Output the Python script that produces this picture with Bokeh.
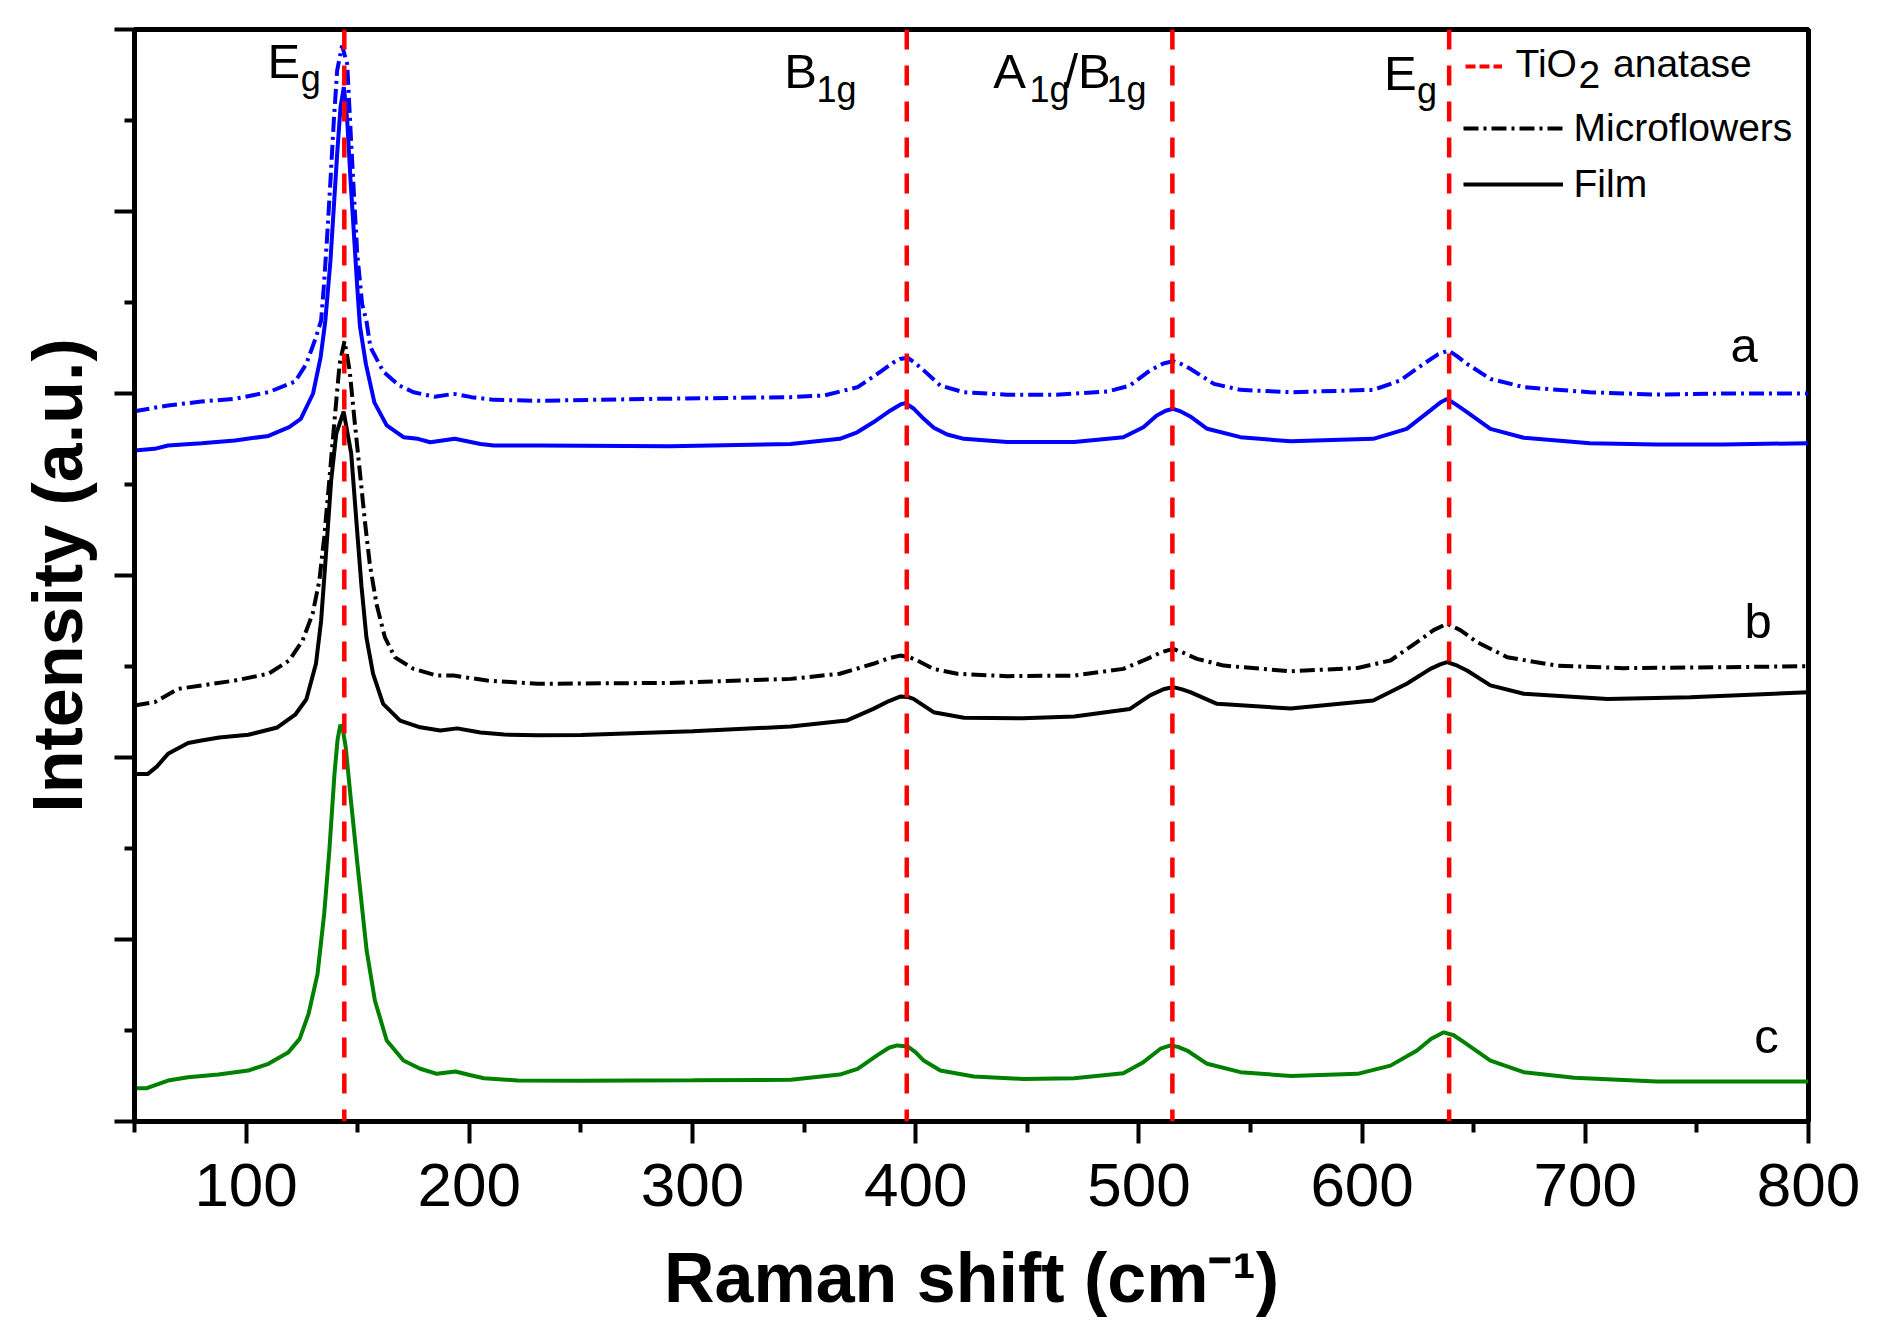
import math
from bokeh.plotting import figure
from bokeh.models import (Range1d, FixedTicker, Span, Label, Legend, LegendItem,
                          CustomJSTickFormatter)
from bokeh.embed import file_html
from bokeh.resources import INLINE

# ---------------- data ----------------
# Raman shift (cm-1), intensity (a.u., stacked)
microflowers_a = [
    (50, 3.903), (65, 3.934), (80, 3.956), (95, 3.971), (110, 4.007), (122, 4.066),
    (127, 4.163), (131.3, 4.309), (133.6, 4.40), (134.8, 4.584), (136.3, 4.86),
    (137.8, 5.17), (139.3, 5.5), (140.8, 5.775), (143.0, 5.912), (145.3, 5.81),
    (146.8, 5.445), (148.3, 5.097), (149.8, 4.767), (152.0, 4.49), (153.9, 4.40),
    (155.7, 4.254), (161.5, 4.12), (168.5, 4.045), (175, 4.007), (184.5, 3.982),
    (193, 3.998), (201, 3.98), (211, 3.965), (231, 3.96), (280, 3.97), (344, 3.98),
    (359, 3.989), (374, 4.035), (384, 4.118), (390, 4.17), (393, 4.19), (396.5, 4.196),
    (400, 4.165), (403.6, 4.127), (411, 4.044), (421.6, 4.007), (441, 3.993), (463, 3.993),
    (486, 4.011), (496, 4.044), (505, 4.127), (511, 4.165), (515.4, 4.178), (519, 4.162),
    (523, 4.136), (533.6, 4.053), (545.5, 4.02), (568, 4.007), (605, 4.02), (617, 4.071),
    (627.6, 4.163), (634, 4.215), (638.8, 4.236), (642.5, 4.205), (647, 4.163),
    (657.5, 4.08), (672.4, 4.035), (702, 4.007), (732, 3.994), (762, 4.0), (800, 4.0),
]
film_a = [
    (50, 3.687), (59, 3.696), (65, 3.714), (80, 3.727), (95, 3.742), (110, 3.767),
    (119.3, 3.815), (124.5, 3.86), (130, 4.0), (133.4, 4.2), (135.5, 4.40),
    (137.8, 4.73), (139.3, 5.024), (140.8, 5.317), (142.3, 5.573), (143.8, 5.683),
    (145.3, 5.5), (146.8, 5.17), (148.3, 4.877), (149.8, 4.584), (151, 4.37),
    (153.7, 4.16), (157.5, 3.95), (163, 3.825), (170.5, 3.76), (177, 3.751),
    (182.5, 3.732), (193.5, 3.751), (205, 3.723), (211, 3.714), (231, 3.714),
    (290, 3.71), (344, 3.723), (366, 3.751), (373.8, 3.787), (381.2, 3.843),
    (388.7, 3.907), (393.2, 3.94), (395.4, 3.947), (399.2, 3.916), (403.6, 3.861),
    (408.1, 3.812), (414.1, 3.775), (421.6, 3.751), (441, 3.733),
    (471, 3.733), (493, 3.76), (502, 3.815), (508, 3.879), (512, 3.905), (515.4, 3.916),
    (519, 3.9), (523, 3.874), (530.6, 3.806), (545.5, 3.76), (568, 3.737), (605, 3.751),
    (620, 3.806), (630.6, 3.907), (635, 3.95), (638.1, 3.97), (642, 3.94), (647, 3.898),
    (657.5, 3.806), (672.4, 3.757), (702, 3.727), (732, 3.72), (762, 3.72), (800, 3.727),
]
microflowers_b = [
    (50, 2.286), (59, 2.304), (69.6, 2.377), (80, 2.396), (95, 2.423), (110, 2.46),
    (119.3, 2.533), (125.3, 2.643), (129.8, 2.79), (132.8, 2.97), (135, 3.21),
    (137, 3.485), (139.6, 3.85), (141.9, 4.163), (144.1, 4.287), (146.4, 4.126),
    (148.6, 3.85), (150.9, 3.577), (153.2, 3.30), (155.4, 3.064), (158.4, 2.844),
    (162.2, 2.66), (166.7, 2.55), (175, 2.487), (185.5, 2.45), (193, 2.45),
    (208, 2.423), (230.7, 2.405), (290, 2.41), (344, 2.432), (366, 2.46),
    (381, 2.515), (388, 2.545), (393, 2.56), (397, 2.552), (400.7, 2.533), (408, 2.487),
    (418.6, 2.46), (441, 2.447), (471, 2.45), (493, 2.487), (503.7, 2.542),
    (510, 2.578), (515.4, 2.597), (520, 2.575), (526, 2.542), (538, 2.505), (568, 2.474),
    (598, 2.492), (612.7, 2.533), (624.6, 2.634), (632, 2.70), (638.1, 2.735),
    (644, 2.70), (651.5, 2.634), (665, 2.551), (687, 2.505),
    (717, 2.491), (762, 2.496), (800, 2.502),
]
film_b = [
    (50, 1.91), (56, 1.91), (60, 1.95), (65, 2.02), (74, 2.08), (80, 2.093),
    (88, 2.11), (101, 2.125), (114, 2.165), (122, 2.235), (127, 2.32),
    (131.3, 2.515), (133.6, 2.75), (135.8, 3.12), (138.1, 3.52), (140.4, 3.78),
    (143.7, 3.90), (147.1, 3.67), (149.4, 3.30), (151.7, 2.94), (153.9, 2.66),
    (156.9, 2.46), (161.4, 2.295), (169, 2.203), (178, 2.166), (187, 2.148),
    (194.6, 2.16), (205, 2.137), (215.7, 2.126), (230.7, 2.122), (250, 2.124),
    (300, 2.144), (344, 2.17), (369, 2.203), (381, 2.267), (388, 2.31), (393, 2.335),
    (396.5, 2.333), (399, 2.322), (408, 2.249), (421.6, 2.218), (448, 2.216), (471, 2.225),
    (496, 2.267), (505, 2.341), (511, 2.375), (515.4, 2.387), (519, 2.376), (523, 2.359),
    (535, 2.295), (568, 2.269), (605, 2.313), (620, 2.405), (630.6, 2.487), (635, 2.512),
    (638.1, 2.524), (642, 2.508), (647, 2.478), (657.5, 2.396), (672.4, 2.35), (710, 2.322),
    (747, 2.331), (800, 2.359),
]
sample_c = [
    (50, 0.183), (55.5, 0.183), (65, 0.225), (74, 0.243), (87.6, 0.258), (101, 0.28),
    (110, 0.317), (119, 0.381), (124, 0.454), (128, 0.592), (132, 0.81),
    (135, 1.143), (137.3, 1.49), (139.6, 1.91), (141, 2.1), (142.2, 2.18), (143.4, 2.15),
    (144.6, 2.06), (147, 1.76), (150, 1.40), (154, 0.94), (157.7, 0.665), (163, 0.445),
    (170.5, 0.335), (178, 0.29), (185.5, 0.262), (193.8, 0.275), (200.6, 0.254),
    (206.6, 0.238), (221.7, 0.225), (250, 0.224), (300, 0.226), (344, 0.229),
    (366, 0.258), (374, 0.289), (382.7, 0.363), (388, 0.405), (391.7, 0.418),
    (396.5, 0.412), (400, 0.38), (403.6, 0.335), (411, 0.28), (426, 0.247), (448, 0.234),
    (471, 0.238), (493, 0.265), (502, 0.326), (509.7, 0.40), (514.2, 0.418), (517.5, 0.41),
    (521.6, 0.39), (530.6, 0.317), (545.5, 0.271), (568, 0.25), (598, 0.262), (612.7, 0.307),
    (624.6, 0.39), (631, 0.455), (636.6, 0.49), (641, 0.474), (645.6, 0.436), (657.5, 0.335),
    (672.4, 0.271), (695, 0.24), (732, 0.22), (800, 0.22),
]
anatase_peaks = [144, 396, 515, 639]
x_major_ticks = [100, 200, 300, 400, 500, 600, 700, 800]
x_minor_ticks = [50, 150, 250, 350, 450, 550, 650, 750]
y_major_ticks = [0, 1, 2, 3, 4, 5, 6]
y_minor_ticks = [0.5, 1.5, 2.5, 3.5, 4.5, 5.5]
legend_labels = ["Microflowers", "Film"]
x_title = "Raman shift (cm\u207b\u00b9)"
y_title = "Intensity (a.u.)"


def xs(series):
    return [p[0] for p in series]


def ys(series):
    return [p[1] for p in series]


FONT = "Liberation Sans"
BLUE = "#0000FF"
GREEN = "#008000"
RED = "#FF0000"
DASHDOT = "15 5 3 5"

p = figure(width=1863, height=1325, output_backend="svg", toolbar_location=None,
           x_range=Range1d(50, 800), y_range=Range1d(0, 6),
           min_border_left=134, min_border_right=55, min_border_top=29,
           min_border_bottom=204)
p.background_fill_color = "white"
p.border_fill_color = "white"
p.grid.visible = False
p.outline_line_color = "black"
p.outline_line_width = 5

# axes
xa = p.xaxis[0]
xa.ticker = FixedTicker(ticks=x_major_ticks, minor_ticks=x_minor_ticks)
xa.axis_line_width = 5
xa.major_tick_line_width = 4
xa.minor_tick_line_width = 4
xa.major_tick_in = 0
xa.major_tick_out = 22
xa.minor_tick_in = 0
xa.minor_tick_out = 11
xa.major_label_text_font = FONT
xa.major_label_text_font_size = "62px"
xa.major_label_text_color = "black"
xa.major_label_standoff = 20
xa.axis_label = x_title
xa.axis_label_text_font = FONT
xa.axis_label_text_font_size = "70px"
xa.axis_label_text_font_style = "bold"
xa.axis_label_text_color = "black"
xa.axis_label_standoff = 30

ya = p.yaxis[0]
ya.ticker = FixedTicker(ticks=y_major_ticks, minor_ticks=y_minor_ticks)
ya.axis_line_width = 5
ya.major_tick_line_width = 4
ya.minor_tick_line_width = 4
ya.major_tick_in = 0
ya.major_tick_out = 20
ya.minor_tick_in = 0
ya.minor_tick_out = 10
ya.formatter = CustomJSTickFormatter(code="return ''")
ya.major_label_standoff = 0
ya.axis_label = y_title
ya.axis_label_text_font = FONT
ya.axis_label_text_font_size = "70px"
ya.axis_label_text_font_style = "bold"
ya.axis_label_text_color = "black"
ya.axis_label_standoff = 18

# curves
r_mf_a = p.line(xs(microflowers_a), ys(microflowers_a), line_color=BLUE, line_width=4,
                line_dash=DASHDOT)
r_film_a = p.line(xs(film_a), ys(film_a), line_color=BLUE, line_width=4)
r_mf_b = p.line(xs(microflowers_b), ys(microflowers_b), line_color="black", line_width=4,
                line_dash=DASHDOT)
r_film_b = p.line(xs(film_b), ys(film_b), line_color="black", line_width=4)
r_c = p.line(xs(sample_c), ys(sample_c), line_color=GREEN, line_width=4)

# reference positions of anatase modes
for pk in anatase_peaks:
    p.add_layout(Span(location=pk, dimension="height", line_color=RED,
                      line_width=4.5, line_dash="20 16"))

# legend sample only (no data drawn)
r_red = p.line(x=[math.nan], y=[math.nan], line_color=RED, line_width=4, line_dash="10 4")

FL, FB = 134, 1121  # frame left / bottom in picture pixels


def txt(s, px, py, size, bold=False):
    # (px, py) = left end of the text baseline, in picture pixels
    p.add_layout(Label(x=px - FL, y=FB - py + 0.355 * size,
                       x_units="screen", y_units="screen",
                       text=s, text_font=FONT, text_font_size=f"{size}px",
                       text_font_style="bold" if bold else "normal",
                       text_color="black", text_baseline="middle",
                       text_align="left"))


# legends
leg1 = Legend(items=[LegendItem(label=legend_labels[0], renderers=[r_mf_b]),
                     LegendItem(label=legend_labels[1], renderers=[r_film_b])],
              location=(1462.5 - FL, FB - 205.7), glyph_width=100, glyph_height=44,
              label_height=44, spacing=12, padding=0, margin=0, label_standoff=11,
              border_line_alpha=0, background_fill_alpha=0,
              label_text_font=FONT, label_text_font_size="39px",
              label_text_color="black")
leg2 = Legend(items=[LegendItem(label=" ", renderers=[r_red])],
              location=(1465 - FL, FB - 87.7), glyph_width=37, glyph_height=44,
              label_height=44, spacing=0, padding=0, margin=0, label_standoff=0,
              border_line_alpha=0, background_fill_alpha=0,
              label_text_font=FONT, label_text_font_size="39px",
              label_text_color="black")
p.add_layout(leg1)
p.add_layout(leg2)
txt("TiO", 1515, 76.7, 39)
txt("2", 1578, 88.3, 39)
txt("anatase", 1612.5, 76.7, 39)

# mode labels
txt("E", 267.1, 78.3, 49)
txt("g", 300.3, 90.7, 36)
txt("B", 783.7, 88.3, 49)
txt("1g", 816.1, 101.7, 36)
txt("A", 992.7, 88.3, 49)
txt("1g", 1029, 101.7, 36)
txt("/B", 1064, 88.3, 49)
txt("1g", 1106, 101.7, 36)
txt("E", 1383.6, 90, 49)
txt("g", 1416.6, 102.4, 36)

# curve tags
txt("a", 1730, 361.7, 49)
txt("b", 1744, 638.3, 49)
txt("c", 1753.7, 1053.3, 49)

open("out.html", "w").write(file_html(p, INLINE))
